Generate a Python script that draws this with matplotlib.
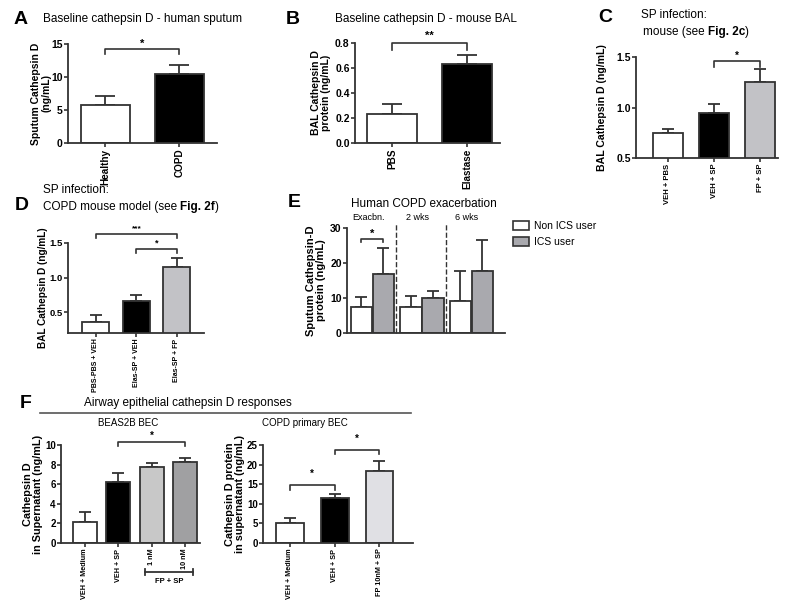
import matplotlib
matplotlib.use("Agg")
import matplotlib.pyplot as plt
import matplotlib.transforms as mtransforms
import numpy as np
from matplotlib.lines import Line2D
from matplotlib.patches import Patch

plt.rcParams['font.family'] = ['Liberation Sans', 'DejaVu Sans']

# ---- data ----
a_labels = ["Healthy", "COPD"]
a_mean = [5.7, 10.5]
a_err = [7.1, 11.8]

b_labels = ["PBS", "Elastase"]
b_mean = [0.235, 0.63]
b_err = [0.315, 0.705]

c_labels = ["VEH + PBS", "VEH + SP", "FP + SP"]
c_mean = [0.745, 0.945, 1.25]
c_err = [0.785, 1.03, 1.38]

d_labels = ["PBS-PBS + VEH", "Elas-SP + VEH", "Elas-SP + FP"]
d_mean = [0.36, 0.66, 1.16]
d_err = [0.46, 0.75, 1.29]

e_groups = ["Exacbn.", "2 wks", "6 wks"]
e_series = ["Non ICS user", "ICS user"]
e_non_mean = [7.5, 7.5, 9.2]
e_non_err = [10.2, 10.7, 17.6]
e_ics_mean = [16.8, 10.0, 17.8]
e_ics_err = [24.3, 12.0, 26.5]

f1_labels = ["VEH + Medium", "VEH + SP", "1 nM", "10 nM"]
f1_mean = [2.1, 6.2, 7.8, 8.3]
f1_err = [3.2, 7.1, 8.15, 8.65]

f2_labels = ["VEH + Medium", "VEH + SP", "FP 10nM + SP"]
f2_mean = [5.0, 11.5, 18.4]
f2_err = [6.5, 12.6, 21.0]

EDGE = "#333333"
W, H = 800, 608
TITLE = 8.5
LETTER = 14

fig = plt.figure(figsize=(8, 6.08), dpi=100)


def px_axes(x0, y0, x1, y1):
    return fig.add_axes([x0 / W, 1 - y1 / H, (x1 - x0) / W, (y1 - y0) / H])


def ftext(x, y, s, **kw):
    return fig.text(x / W, 1 - y / H, s, **kw)


def style(ax, ysize=7.5):
    for s in ("top", "right"):
        ax.spines[s].set_visible(False)
    for s in ("left", "bottom"):
        ax.spines[s].set_color(EDGE)
        ax.spines[s].set_linewidth(1.3)
    ax.tick_params(colors=EDGE, width=1.2, length=3, pad=1)
    ax.tick_params(axis="y", labelsize=ysize, pad=0.8)
    for lab in ax.get_yticklabels():
        lab.set_fontweight("bold")
        lab.set_color("black")
    for lab in ax.get_xticklabels():
        lab.set_color("black")


def bars(ax, x, mean, err, colors, width, capsize=4):
    ax.bar(x, mean, width=width, color=colors, edgecolor=EDGE, linewidth=1.3, zorder=2)
    up = np.array(err) - np.array(mean)
    ax.errorbar(x, mean, yerr=[np.zeros_like(up), up], fmt="none", ecolor=EDGE,
                elinewidth=1.3, capsize=capsize, capthick=1.3, zorder=1)


def bracket(ax, x1, x2, y, h, text, fs=8, dy=0.0):
    ax.plot([x1, x1, x2, x2], [y - h, y, y, y - h], color=EDGE, lw=1.2, clip_on=False)
    ax.text((x1 + x2) / 2, y + dy, text, ha="center", va="bottom", fontsize=fs,
            fontweight="bold", clip_on=False)


def xlabels(ax, x, labels, fs):
    ax.set_xticks(x)
    ax.set_xticklabels(labels, rotation=90, fontsize=fs, fontweight="bold")


def ylab(ax, s, fs, right_px):
    # right_px: figure pixel where the (rotated) label block ends on the right
    ax.set_ylabel(s, fontsize=fs, fontweight="bold", linespacing=1.0)
    tr = mtransforms.blended_transform_factory(fig.transFigure, ax.transAxes)
    ax.yaxis.set_label_coords(right_px / W, 0.5, transform=tr)


# ---- panel A ----
ax = px_axes(68, 44, 217, 143)
xa = np.arange(len(a_mean))
bars(ax, xa, a_mean, a_err, ["white", "black"], 0.66, capsize=7)
ax.set_xlim(-0.5, 1.51)
ax.set_ylim(0, 15)
ax.set_yticks([0, 5, 10, 15])
xlabels(ax, xa, a_labels, 7.2)
ylab(ax, "Sputum Cathepsin D\n(ng/mL)", 7.5, 51)
style(ax)
bracket(ax, xa[0], xa[1], 14.3, 0.8, "*", fs=8)
ftext(14, 20, "A", fontsize=LETTER, fontweight="bold", va="center")
ftext(43, 19, "Baseline cathepsin D - human sputum", fontsize=TITLE, va="center")

# ---- panel B ----
ax = px_axes(355, 43, 500, 143)
xb = np.arange(len(b_mean))
bars(ax, xb, b_mean, b_err, ["white", "black"], 0.67, capsize=7)
ax.set_xlim(-0.5, 1.44)
ax.set_ylim(0, 0.8)
ax.set_yticks([0, 0.2, 0.4, 0.6, 0.8])
ax.set_yticklabels(["0.0", "0.2", "0.4", "0.6", "0.8"])
xlabels(ax, xb, b_labels, 7.2)
ylab(ax, "BAL Cathepsin D\nprotein (ng/mL)", 7.5, 331)
style(ax)
bracket(ax, xb[0], xb[1], 0.8, 0.055, "**", fs=8, dy=0.015)
ftext(286, 19, "B", fontsize=LETTER, fontweight="bold", va="center")
ftext(335, 19, "Baseline cathepsin D - mouse BAL", fontsize=TITLE, va="center")

# ---- panel C ----
ax = px_axes(636, 57, 778, 158)
xc = np.arange(len(c_mean))
bars(ax, xc, c_mean, c_err, ["white", "black", "#c2c2c6"], 0.65, capsize=4.5)
ax.set_xlim(-0.69, 2.38)
ax.set_ylim(0.5, 1.5)
ax.set_yticks([0.5, 1.0, 1.5])
xlabels(ax, xc, c_labels, 5.5)
ylab(ax, "BAL Cathepsin D (ng/mL)", 7.6, 607)
style(ax)
bracket(ax, xc[1], xc[2], 1.46, 0.06, "*", fs=7)
ftext(598, 18, "C", fontsize=LETTER, fontweight="bold", va="center")
ftext(641, 15, "SP infection:", fontsize=TITLE, va="center")
t = ftext(643, 32, "mouse (see ", fontsize=TITLE, va="center")
t2 = ax.annotate("Fig. 2c", xy=(1, 0), xycoords=t, va="bottom", ha="left",
                 fontsize=TITLE, fontweight="bold")
ax.annotate(")", xy=(1, 0), xycoords=t2, va="bottom", ha="left", fontsize=TITLE)

# ---- panel D ----
ax = px_axes(68, 243, 204, 333)
xd = np.arange(len(d_mean))
bars(ax, xd, d_mean, d_err, ["white", "black", "#c2c2c6"], 0.67, capsize=4)
ax.set_xlim(-0.69, 2.67)
ax.set_ylim(0.2, 1.5)
ax.set_yticks([0.5, 1.0, 1.5])
xlabels(ax, xd, d_labels, 5)
ylab(ax, "BAL Cathepsin D (ng/mL)", 7.2, 48)
style(ax, ysize=6.8)
bracket(ax, xd[0], xd[2], 1.63, 0.06, "***", fs=6, dy=0.02)
bracket(ax, xd[1], xd[2], 1.41, 0.06, "*", fs=6.5, dy=0.02)
ftext(15, 205, "D", fontsize=LETTER, fontweight="bold", va="center")
ftext(43, 190, "SP infection:", fontsize=TITLE, va="center")
t = ftext(43, 207, "COPD mouse model (see ", fontsize=TITLE, va="center")
t2 = ax.annotate("Fig. 2f", xy=(1, 0), xycoords=t, va="bottom", ha="left",
                 fontsize=TITLE, fontweight="bold")
ax.annotate(")", xy=(1, 0), xycoords=t2, va="bottom", ha="left", fontsize=TITLE)

# ---- panel E ----
ax = px_axes(347, 228, 505, 333)
xe = np.arange(len(e_groups))
off, bw = 0.222, 0.43
bars(ax, xe - off, e_non_mean, e_non_err, "white", bw, capsize=4)
bars(ax, xe + off, e_ics_mean, e_ics_err, "#a9a9ae", bw, capsize=4)
ax.set_xlim(-0.515, 2.68)
ax.set_ylim(0, 30)
ax.set_yticks([0, 10, 20, 30])
ax.set_xticks([])
ylab(ax, "Sputum Cathepsin-D\nprotein (ng/mL)", 8, 326)
style(ax)
for g in xe[:-1]:
    ax.plot([g + 0.48, g + 0.48], [0, 31.5], ls="--", color=EDGE, lw=1.0, clip_on=False)
for g, name in zip(xe, e_groups):
    ax.text(g - 0.09, 31.7, name, ha="center", va="bottom", fontsize=6.5)
bracket(ax, xe[0] - off, xe[0] + off, 26.9, 1.0, "*", fs=8)
ftext(288, 203, "E", fontsize=LETTER, fontweight="bold", va="center")
ftext(424, 204, "Human COPD exacerbation", fontsize=TITLE, va="center", ha="center")
handles = [Patch(facecolor="white", edgecolor=EDGE, lw=1.2),
           Patch(facecolor="#a9a9ae", edgecolor=EDGE, lw=1.2)]
fig.legend(handles, e_series, loc="upper left", bbox_to_anchor=(509 / W, 1 - 217 / H),
           frameon=False, fontsize=7.5, handlelength=1.5, handleheight=1.0,
           handletextpad=0.5, labelspacing=0.5, borderaxespad=0)

# ---- panel F ----
ftext(20, 404, "F", fontsize=LETTER, fontweight="bold", va="center")
ftext(188, 403, "Airway epithelial cathepsin D responses", fontsize=TITLE, va="center", ha="center")
fig.add_artist(Line2D([40 / W, 411 / W], [1 - 413 / H, 1 - 413 / H], color="#555555", lw=1.2))

ax = px_axes(61, 445, 200, 543)
xf = np.arange(len(f1_mean))
bars(ax, xf, f1_mean, f1_err, ["white", "black", "#c8c8c8", "#a0a0a2"], 0.72, capsize=4.5)
ax.set_xlim(-0.72, 3.45)
ax.set_ylim(0, 10)
ax.set_yticks([0, 2, 4, 6, 8, 10])
xlabels(ax, xf, f1_labels, 5.2)
ylab(ax, "Cathepsin D\nin Supernatant (ng/mL)", 7.8, 43)
style(ax, ysize=7)
ftext(128, 423, "BEAS2B BEC", fontsize=7, va="center", ha="center")
bracket(ax, xf[1], xf[3], 10.3, 0.4, "*", fs=7, dy=0.1)
trans = ax.get_xaxis_transform()
x1, x2 = xf[2] - 0.2, xf[3] + 0.24
ax.plot([x1, x2], [-0.30, -0.30], color=EDGE, lw=1.3, transform=trans, clip_on=False)
ax.plot([x1, x1], [-0.27, -0.33], color=EDGE, lw=1.3, transform=trans, clip_on=False)
ax.plot([x2, x2], [-0.27, -0.33], color=EDGE, lw=1.3, transform=trans, clip_on=False)
ax.text((x1 + x2) / 2, -0.36, "FP + SP", transform=trans, ha="center", va="top",
        fontsize=5.5, fontweight="bold")

ax = px_axes(263, 445, 413, 543)
xg = np.arange(len(f2_mean))
bars(ax, xg, f2_mean, f2_err, ["white", "black", "#e0e0e4"], 0.62, capsize=4.5)
ax.set_xlim(-0.6, 2.75)
ax.set_ylim(0, 25)
ax.set_yticks([0, 5, 10, 15, 20, 25])
xlabels(ax, xg, f2_labels, 5.2)
ylab(ax, "Cathepsin D protein\nin supernatant (ng/mL)", 7.8, 245)
style(ax, ysize=7)
ftext(305, 423, "COPD primary BEC", fontsize=7, va="center", ha="center")
bracket(ax, xg[0], xg[1], 14.8, 1.2, "*", fs=7, dy=1.5)
bracket(ax, xg[1], xg[2], 23.7, 1.0, "*", fs=7, dy=1.5)

fig.savefig("out.png", dpi=100)
